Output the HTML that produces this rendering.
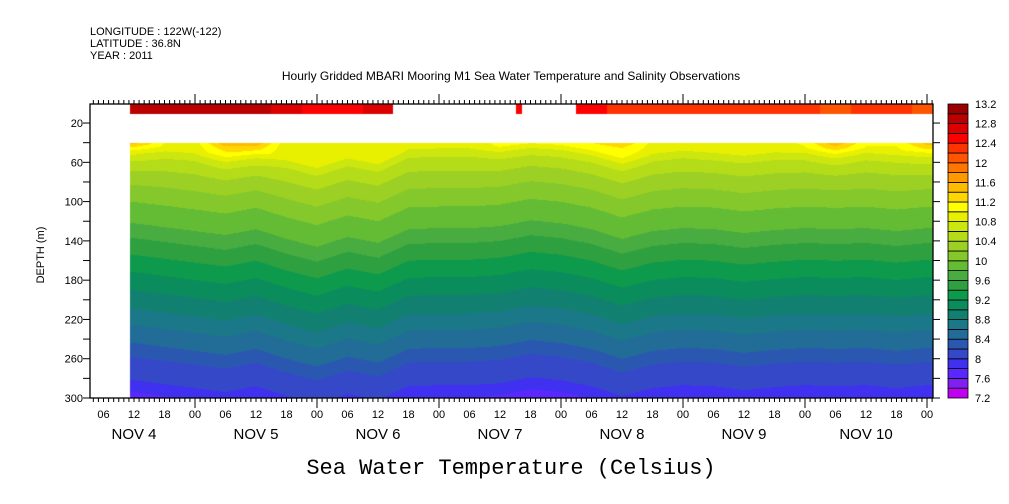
<!DOCTYPE html>
<html><head><meta charset="utf-8">
<style>
html,body{margin:0;padding:0;background:#fff;}
#wrap{position:relative;width:1009px;height:504px;overflow:hidden;}
canvas,svg{position:absolute;left:0;top:0;}
text{font-family:"Liberation Sans",sans-serif;fill:#000;}
</style></head>
<body>
<div id="wrap">
<canvas id="cv" width="1009" height="504"></canvas>
<svg id="sv" width="1009" height="504"></svg>
</div>
<script>
// ---- data ----
const depths = [40,50,60,72,100,122,141,163,185,205,221,244,258,282,294,300];
const baseTemp = [10.85,10.6,10.45,10.3,10.0,9.8,9.55,9.3,9.05,8.85,8.65,8.4,8.2,8.0,7.8,7.7];
const hours = [12,18,24,30,36,42,48,54,60,66,72,78,84,90,96,102,108,114,120,126,132,138,144,150,156,162,168];
const shift = [0,4,8,12,6,16,24,14,20,6,5,5,3,-3,0,6,16,8,5,6,10,7,5,6,5,8,5];
const topT  = [11.5,11.0,10.9,11.6,11.6,10.85,10.8,10.85,10.85,10.8,10.8,10.8,11.1,11.1,11.1,11.2,11.4,10.95,10.9,11.0,10.95,10.9,11.05,11.6,11.05,11.05,11.5];
const surfT = [12.9,12.9,12.9,12.9,12.85,12.7,12.5,12.6,12.7,null,null,null,null,null,null,12.5,12.3,12.3,12.3,12.3,12.3,12.3,12.3,12.2,12.3,12.3,12.2];
const levelLabels = ["7.2","7.6","8","8.4","8.8","9.2","9.6","10","10.4","10.8","11.2","11.6","12","12.4","12.8","13.2"];
const palette = ["#c000f0","#8020f0","#5a28ff","#4030f0","#3448c8","#2a58b0","#226c98","#1a7888","#128070","#0a8c5c","#0e9a4c","#2ea040","#48ac40","#64bc34","#84c82c","#9cd024","#b4dc18","#cce610","#e8f000","#ffff00","#ffd700","#ffbb00","#ff9900","#ff7700","#ff5500","#ff3300","#ff0000","#dd0000","#bb0000","#990000"];
const tMin=7.2, tStep=0.2;

// ---- scales ----
const X0=90, X1=933, Y0=104, Y1=398;
const pxPerHour = 30.5/6;
function xOfHour(h){return 134+(h-12)*pxPerHour;}
function hourOfX(x){return 12+(x-134)/pxPerHour;}
function yOfDepth(d){return 103.4+d*0.982;}
function depthOfY(y){return (y-103.4)/0.982;}
function interp(xs,ys,v){
  if(v<=xs[0])return ys[0];
  for(let i=1;i<xs.length;i++){ if(v<=xs[i]){const f=(v-xs[i-1])/(xs[i]-xs[i-1]);return ys[i-1]+f*(ys[i]-ys[i-1]);} }
  return ys[ys.length-1];
}
function colorOf(t){let i=Math.floor((t-tMin)/tStep);i=Math.max(0,Math.min(palette.length-1,i));return palette[i];}
function hex(c){return [parseInt(c.slice(1,3),16),parseInt(c.slice(3,5),16),parseInt(c.slice(5,7),16)];}

// ---- field ----
const cv=document.getElementById('cv');const ctx=cv.getContext('2d');
const img=ctx.createImageData(1009,504);
const dataStart=130;
const yTop=Math.round(yOfDepth(40));
for(let x=dataStart;x<X1;x++){
  const h=hourOfX(x+0.5);
  const s=interp(hours,shift,h), tt=interp(hours,topT,h);
  for(let y=yTop;y<Y1;y++){
    const d=depthOfY(y+0.5);
    let t=interp(depths,baseTemp,d-s)+(tt-baseTemp[0])*Math.exp(-(d-40)/12);
    const rgb=hex(colorOf(t));const k=(y*1009+x)*4;
    img.data[k]=rgb[0];img.data[k+1]=rgb[1];img.data[k+2]=rgb[2];img.data[k+3]=255;
  }
  let si=Math.round((h-12)/6);si=Math.max(0,Math.min(hours.length-1,si));
  let sv=surfT[si];
  const inGap=(x>=400&&x<571)&&!(x>=516&&x<522);
  if(x>=516&&x<522) sv=12.5;
  if(sv!==null&&!inGap){
    const rgb=hex(colorOf(sv));
    for(let y=Y0;y<114;y++){const k=(y*1009+x)*4;img.data[k]=rgb[0];img.data[k+1]=rgb[1];img.data[k+2]=rgb[2];img.data[k+3]=255;}
  }
}
ctx.putImageData(img,0,0);

// ---- svg axes ----
const NS="http://www.w3.org/2000/svg";const sv=document.getElementById('sv');
function el(tag,attrs,parent){const e=document.createElementNS(NS,tag);for(const k in attrs)e.setAttribute(k,attrs[k]);(parent||sv).appendChild(e);return e;}
function txt(s,x,y,size,anchor,parent,fam){const t=el('text',{x:x,y:y,'font-size':size,'text-anchor':anchor||'start'},parent);if(fam)t.style.fontFamily=fam;t.textContent=s;return t;}

const hdr=el('g',{});
txt("LONGITUDE : 122W(-122)",90,35,11,'start',hdr);
txt("LATITUDE : 36.8N",90,47,11,'start',hdr);
txt("YEAR : 2011",90,59,11,'start',hdr);
const ttl=txt("Hourly Gridded MBARI Mooring M1 Sea Water Temperature and Salinity Observations",511,80,12,'middle');


const frame=el('rect',{x:X0,y:Y0,width:X1-X0,height:Y1-Y0,fill:'none',stroke:'#000','stroke-width':1.3});


// y axis
const ya=el('g',{});
for(let d=20;d<=300;d+=20){
  const y=yOfDepth(d);
  el('line',{x1:X0-7,y1:y,x2:X0,y2:y,stroke:'#000','stroke-width':1},ya);
  el('line',{x1:X1,y1:y,x2:X1+7,y2:y,stroke:'#000','stroke-width':1},ya);
  if(d%40===20||d===300) txt(String(d),83,y+4,11,'end',ya);
}
const yt=txt("DEPTH (m)",0,0,11,'middle',ya);yt.setAttribute('transform','translate(44,255) rotate(-90)');


// x axis
const xa=el('g',{});
for(let h=-8;h<=170;h++){
  const x=xOfHour(h);if(x<X0||x>X1)continue;
  const isDay=((h%24)+24)%24===0;
  el('line',{x1:x,y1:Y0,x2:x,y2:Y0-(isDay?10:4),stroke:'#000','stroke-width':1},xa);
  el('line',{x1:x,y1:Y1,x2:x,y2:Y1+(isDay?10:4),stroke:'#000','stroke-width':1},xa);
  if(h%6===0){const hh=((h%24)+24)%24;txt((hh<10?"0":"")+hh,x,418,11,'middle',xa);}
}
for(let d=0;d<7;d++){txt("NOV  "+(4+d),xOfHour(12+24*d),439,15,'middle',xa);}
const xt=txt("Sea Water Temperature (Celsius)",511,474,22,'middle',null,'"Liberation Mono",monospace');


// colorbar
const cb=el('g',{});
const cbH=(Y1-Y0)/palette.length;
for(let i=0;i<palette.length;i++){
  const r=el('rect',{x:948,y:Y1-(i+1)*cbH,width:20,height:cbH,fill:palette[i],stroke:'#000','stroke-width':0.8},cb);
  
}
for(let i=0;i<levelLabels.length;i++){txt(levelLabels[i],975,Y1-i*2*cbH+4,11,'start',cb);}
</script>
</body></html>
